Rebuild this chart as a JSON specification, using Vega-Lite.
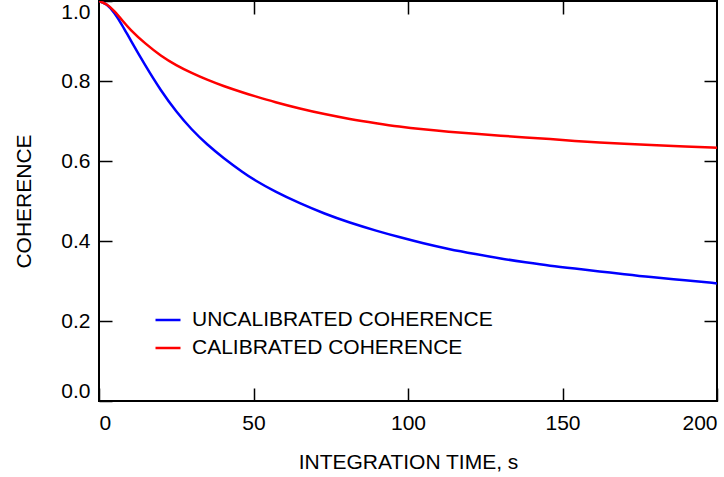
{
  "$schema": "https://vega.github.io/schema/vega-lite/v6.json",
  "width": 618,
  "height": 400,
  "autosize": "none",
  "padding": {"left": 99, "top": 1, "right": 7, "bottom": 76},
  "background": "white",
  "config": {
    "font": "Liberation Sans",
    "view": {"stroke": "black", "strokeWidth": 2},
    "axis": {
      "domain": false,
      "grid": false,
      "labelFont": "Liberation Sans",
      "titleFont": "Liberation Sans",
      "labelFontSize": 21,
      "titleFontSize": 21,
      "titleFontWeight": "normal",
      "labelColor": "black",
      "titleColor": "black",
      "tickColor": "black",
      "tickWidth": 1.5,
      "tickSize": -13,
      "labelFlush": true
    },
    "legend": {
      "labelFont": "Liberation Sans",
      "labelFontSize": 21,
      "labelColor": "black",
      "labelLimit": 0
    }
  },
  "data": {
    "values": [
      {"t": 0, "c": 1.0, "s": "UNCALIBRATED COHERENCE"},
      {"t": 2.5, "c": 0.993, "s": "UNCALIBRATED COHERENCE"},
      {"t": 5, "c": 0.971, "s": "UNCALIBRATED COHERENCE"},
      {"t": 7.5, "c": 0.94, "s": "UNCALIBRATED COHERENCE"},
      {"t": 10, "c": 0.905, "s": "UNCALIBRATED COHERENCE"},
      {"t": 15, "c": 0.838, "s": "UNCALIBRATED COHERENCE"},
      {"t": 20, "c": 0.776, "s": "UNCALIBRATED COHERENCE"},
      {"t": 25, "c": 0.723, "s": "UNCALIBRATED COHERENCE"},
      {"t": 30, "c": 0.678, "s": "UNCALIBRATED COHERENCE"},
      {"t": 35, "c": 0.641, "s": "UNCALIBRATED COHERENCE"},
      {"t": 40, "c": 0.609, "s": "UNCALIBRATED COHERENCE"},
      {"t": 47, "c": 0.569, "s": "UNCALIBRATED COHERENCE"},
      {"t": 50, "c": 0.554, "s": "UNCALIBRATED COHERENCE"},
      {"t": 57, "c": 0.523, "s": "UNCALIBRATED COHERENCE"},
      {"t": 65, "c": 0.494, "s": "UNCALIBRATED COHERENCE"},
      {"t": 73, "c": 0.468, "s": "UNCALIBRATED COHERENCE"},
      {"t": 81, "c": 0.446, "s": "UNCALIBRATED COHERENCE"},
      {"t": 90, "c": 0.425, "s": "UNCALIBRATED COHERENCE"},
      {"t": 97, "c": 0.41, "s": "UNCALIBRATED COHERENCE"},
      {"t": 105, "c": 0.394, "s": "UNCALIBRATED COHERENCE"},
      {"t": 113, "c": 0.38, "s": "UNCALIBRATED COHERENCE"},
      {"t": 122, "c": 0.367, "s": "UNCALIBRATED COHERENCE"},
      {"t": 130, "c": 0.356, "s": "UNCALIBRATED COHERENCE"},
      {"t": 138, "c": 0.347, "s": "UNCALIBRATED COHERENCE"},
      {"t": 146, "c": 0.338, "s": "UNCALIBRATED COHERENCE"},
      {"t": 154, "c": 0.331, "s": "UNCALIBRATED COHERENCE"},
      {"t": 162, "c": 0.324, "s": "UNCALIBRATED COHERENCE"},
      {"t": 170, "c": 0.317, "s": "UNCALIBRATED COHERENCE"},
      {"t": 178, "c": 0.31, "s": "UNCALIBRATED COHERENCE"},
      {"t": 190, "c": 0.302, "s": "UNCALIBRATED COHERENCE"},
      {"t": 200, "c": 0.294, "s": "UNCALIBRATED COHERENCE"},
      {"t": 0, "c": 1.0, "s": "CALIBRATED COHERENCE"},
      {"t": 2.5, "c": 0.993, "s": "CALIBRATED COHERENCE"},
      {"t": 5, "c": 0.975, "s": "CALIBRATED COHERENCE"},
      {"t": 7.5, "c": 0.952, "s": "CALIBRATED COHERENCE"},
      {"t": 10, "c": 0.929, "s": "CALIBRATED COHERENCE"},
      {"t": 15, "c": 0.893, "s": "CALIBRATED COHERENCE"},
      {"t": 20, "c": 0.863, "s": "CALIBRATED COHERENCE"},
      {"t": 25, "c": 0.839, "s": "CALIBRATED COHERENCE"},
      {"t": 30, "c": 0.82, "s": "CALIBRATED COHERENCE"},
      {"t": 35, "c": 0.803, "s": "CALIBRATED COHERENCE"},
      {"t": 40, "c": 0.788, "s": "CALIBRATED COHERENCE"},
      {"t": 47, "c": 0.77, "s": "CALIBRATED COHERENCE"},
      {"t": 50, "c": 0.763, "s": "CALIBRATED COHERENCE"},
      {"t": 57, "c": 0.747, "s": "CALIBRATED COHERENCE"},
      {"t": 65, "c": 0.731, "s": "CALIBRATED COHERENCE"},
      {"t": 73, "c": 0.717, "s": "CALIBRATED COHERENCE"},
      {"t": 81, "c": 0.705, "s": "CALIBRATED COHERENCE"},
      {"t": 90, "c": 0.694, "s": "CALIBRATED COHERENCE"},
      {"t": 97, "c": 0.686, "s": "CALIBRATED COHERENCE"},
      {"t": 105, "c": 0.679, "s": "CALIBRATED COHERENCE"},
      {"t": 113, "c": 0.673, "s": "CALIBRATED COHERENCE"},
      {"t": 122, "c": 0.668, "s": "CALIBRATED COHERENCE"},
      {"t": 130, "c": 0.663, "s": "CALIBRATED COHERENCE"},
      {"t": 138, "c": 0.659, "s": "CALIBRATED COHERENCE"},
      {"t": 146, "c": 0.655, "s": "CALIBRATED COHERENCE"},
      {"t": 154, "c": 0.65, "s": "CALIBRATED COHERENCE"},
      {"t": 162, "c": 0.646, "s": "CALIBRATED COHERENCE"},
      {"t": 170, "c": 0.643, "s": "CALIBRATED COHERENCE"},
      {"t": 178, "c": 0.64, "s": "CALIBRATED COHERENCE"},
      {"t": 190, "c": 0.636, "s": "CALIBRATED COHERENCE"},
      {"t": 200, "c": 0.633, "s": "CALIBRATED COHERENCE"}
    ]
  },
  "layer": [
    {
      "mark": {"type": "line", "strokeWidth": 2.5, "interpolate": "basis", "clip": true},
      "encoding": {
        "x": {
          "field": "t", "type": "quantitative",
          "scale": {"domain": [0, 200], "nice": false, "zero": false},
          "axis": {"orient": "bottom", "values": [0, 50, 100, 150, 200], "title": "INTEGRATION TIME, s", "labelPadding": 24, "titlePadding": 18}
        },
        "y": {
          "field": "c", "type": "quantitative",
          "scale": {"domain": [0, 1], "nice": false},
          "axis": {"orient": "left", "values": [0, 0.2, 0.4, 0.6, 0.8, 1.0], "format": ".1f", "title": "COHERENCE", "labelPadding": 22, "titlePadding": 26}
        },
        "color": {
          "field": "s", "type": "nominal",
          "scale": {"domain": ["UNCALIBRATED COHERENCE", "CALIBRATED COHERENCE"], "range": ["#0000ff", "#ff0000"]},
          "legend": {
            "title": null,
            "orient": "none",
            "legendX": 55,
            "legendY": 305,
            "symbolType": "stroke",
            "symbolSize": 625,
            "symbolStrokeWidth": 2.5,
            "labelOffset": 10,
            "rowPadding": 4,
            "padding": 0
          }
        }
      }
    },
    {
      "mark": {"type": "line", "opacity": 0},
      "encoding": {
        "x": {
          "field": "t", "type": "quantitative",
          "axis": {"orient": "top", "values": [50, 100, 150], "labels": false, "title": null}
        },
        "y": {
          "field": "c", "type": "quantitative",
          "axis": {"orient": "right", "values": [0.2, 0.4, 0.6, 0.8], "labels": false, "title": null}
        },
        "detail": {"field": "s", "type": "nominal"}
      }
    }
  ],
  "resolve": {"axis": {"x": "independent", "y": "independent"}}
}
